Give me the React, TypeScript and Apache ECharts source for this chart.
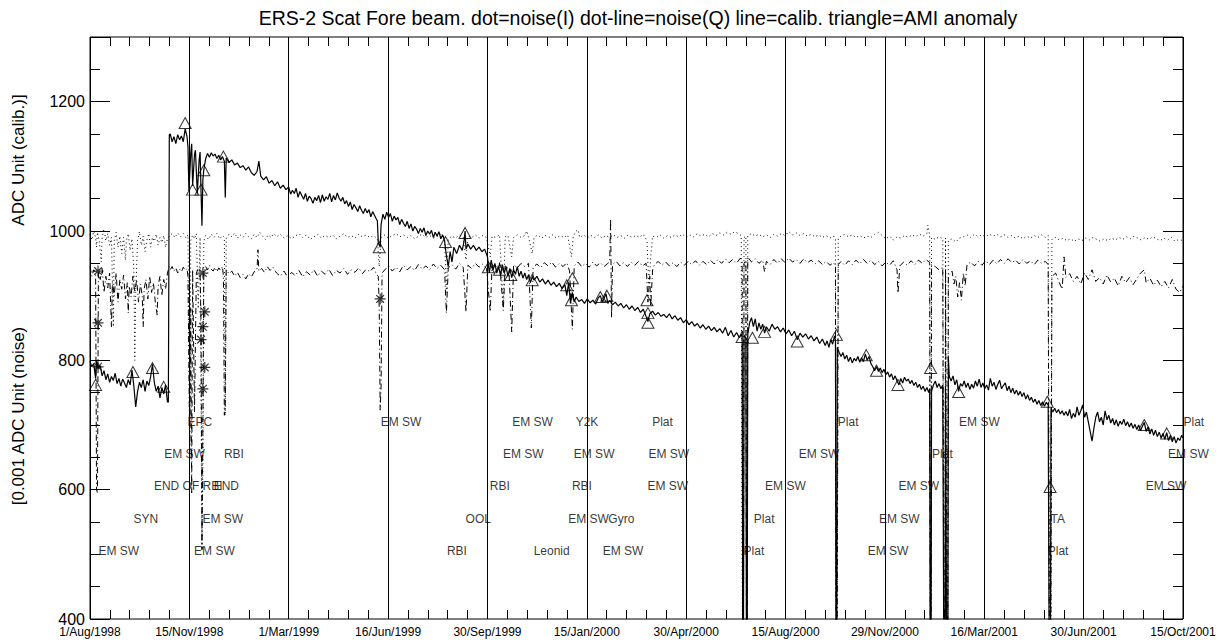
import { useEffect, useRef } from 'react';
import * as echarts from 'echarts';

// Axis: days since 1 Aug 1998, one labelled tick every 106.5 days.
const dateLabels = ['1/Aug/1998', '15/Nov/1998', '1/Mar/1999', '16/Jun/1999', '30/Sep/1999', '15/Jan/2000', '30/Apr/2000', '15/Aug/2000', '29/Nov/2000', '16/Mar/2001', '30/Jun/2001', '15/Oct/2001'];
const dayStep = 106.5;
const lastDay = 1171.5;
const yLabels = [400, 600, 800, 1000, 1200];

const TITLE = 'ERS-2 Scat Fore beam. dot=noise(I) dot-line=noise(Q) line=calib. triangle=AMI anomaly';
const Y_TITLE_TOP = 'ADC Unit (calib.)]';
const Y_TITLE_BOTTOM = '[0.001 ADC Unit (noise)';

// Calibration level (solid); 0 marks a data dropout.
const calib: [number, number][] = [
  [0,798],[2,790],[4,795],[6,772],[7,800],[9,788],[11,792],[13,776],[15,784],[17,770],[19,779],[21,766],[23,775],[25,769],[27,780],[29,764],[31,772],[33,760],[35,771],[37,765],[39,758],[41,770],[43,762],[45,785],[47,760],[49,728],[51,752],[53,766],[55,758],[57,770],[59,752],[61,768],[63,761],[65,775],[67,794],[69,765],[71,752],[73,760],[75,742],[77,758],[79,748],[81,762],[83,736],[84,735],
  [85,1149],[86,1150],[88,1138],[90,1146],[92,1135],[94,1149],[96,1141],[98,1147],[100,1138],[102,1158],[104,1146],[105,1130],[106,1062],[108,1120],[109,1135],[110,1070],[112,1118],[113,1125],[115,1058],[117,1110],[118,1122],[119,1062],[120,1008],[121,1080],[122,1095],[124,1112],[126,1120],[128,1114],[130,1121],[132,1116],[134,1119],[136,1112],[138,1117],[140,1110],[142,1115],[144,1108],[145,1052],[146,1113],[149,1106],[152,1110],[155,1102],[158,1105],[161,1098],[164,1101],[167,1094],[170,1099],[173,1090],[176,1086],[179,1092],[181,1108],[183,1085],[186,1079],[189,1084],[192,1074],[195,1078],[198,1070],[201,1076],[204,1066],[207,1071],[210,1064],
  [213,1068],[215,1057],[217,1063],[219,1058],[221,1066],[223,1052],[225,1061],[227,1055],[229,1049],[231,1058],[233,1046],[235,1054],[237,1050],[239,1043],[241,1052],[243,1047],[245,1055],[247,1044],[249,1056],[251,1046],[253,1053],[255,1049],[257,1058],[259,1045],[261,1055],[263,1048],[265,1059],[267,1051],[269,1046],[271,1052],[273,1042],[275,1047],[277,1038],[279,1045],[281,1033],[283,1041],[285,1036],[287,1030],[289,1039],[291,1032],[293,1027],[295,1035],[297,1028],[299,1033],[301,1022],[303,1030],[305,1024],[307,1018],[308,1016],[309,982],[311,975],[312,1010],[314,1026],[316,1018],[318,1029],[320,1021],[322,1027],[324,1015],[326,1023],[328,1017],[330,1021],[332,1010],[334,1018],[336,1012],[338,1007],[340,1015],[342,1004],[344,1011],[346,1000],[348,1007],[350,1003],[352,996],[354,1004],[356,998],[358,1005],[360,993],[362,1000],[364,995],[366,1001],[368,990],[370,998],[372,992],[374,999],[376,988],[378,994],[380,985],[382,962],[384,945],[386,968],[388,952],[390,975],[393,965],[396,978],[399,970],[401,985],[402,1000],[403,972],[405,980],[408,972],[411,978],[414,970],[417,975],[420,968],[423,972],[426,960],[428,935],[430,955],[432,940],[434,950],[436,935],[438,945],[440,931],[442,948],[444,936],[446,944],[448,930],[450,942],[452,928],[454,940],[456,933],[458,945],[460,930],[462,938],[464,927],[466,935],[468,925],[470,932],[472,920],[474,929],[476,924],[479,930],[482,921],[485,926],[488,918],[491,924],[494,916],[497,921],[500,914],[503,919],[506,911],[509,917],[511,900],[513,920],[515,888],[517,905],[519,890],[521,898],[524,891],[527,894],[530,888],[533,895],[536,889],[539,893],[542,887],[545,897],[547,900],[549,890],[551,896],[553,903],[555,888],[557,893],[560,886],[563,890],[566,884],[569,888],[572,881],[575,886],[578,879],[581,884],[584,877],[587,882],[590,874],[593,879],[596,868],[598,860],[600,872],[603,876],[606,870],[609,874],[612,868],[615,871],
  [618,866],[621,872],[624,864],[627,869],[630,862],[633,866],[636,858],[639,863],[642,855],[645,860],[648,853],[651,857],[654,850],[657,855],[660,848],[663,853],[666,846],[669,851],[672,844],[675,849],[678,842],[681,851],[684,838],[687,846],[690,836],[693,843],[696,835],[698,840],[699,836],[700,0],[701,838],[703,835],[704,0],[705,840],[707,858],[709,866],[711,852],[713,864],[715,845],[717,858],[719,848],[721,856],[723,842],[725,852],[728,845],[731,856],[734,848],[737,852],[740,844],[743,850],[746,841],[749,847],[752,838],[755,845],[758,832],[761,842],[764,836],[767,841],[770,833],[773,838],[776,830],[779,836],[782,826],[785,833],[788,823],[790,830],[792,820],[794,832],[796,825],[798,838],[799,830],[800,0],[801,820],[803,812],[805,806],[807,812],[809,802],[811,808],[813,798],[815,805],[817,796],[819,803],[821,799],[823,806],[825,797],[827,804],[829,798],[831,810],[833,800],[835,806],
  [837,795],[839,790],[841,784],[843,790],[845,783],[847,788],[849,781],[851,786],[853,778],[855,782],[857,774],[859,779],[861,770],[863,776],[865,768],[867,762],[869,772],[871,765],[873,774],[875,768],[877,771],[879,764],[881,769],[883,761],[885,766],[887,758],[889,763],[891,755],[893,760],[895,752],[897,758],[899,750],[900,756],[901,0],[902,752],[904,762],[906,768],[908,758],[910,764],[912,756],[914,762],[916,0],[917,760],[919,0],[920,805],[921,775],[923,768],[925,776],[927,762],[929,770],[931,752],[933,764],[935,760],[937,768],[939,758],[941,765],[943,755],[945,763],[947,757],[949,768],[951,760],[953,771],[955,758],[957,765],[959,756],[961,762],[963,754],[965,772],[967,760],[969,766],[971,755],[973,763],[975,769],[977,756],[979,761],[981,765],[983,753],[985,760],[987,750],[989,757],[991,748],[993,754],[995,746],[997,752],[999,744],[1001,750],[1003,740],[1005,747],[1007,738],[1009,743],[1011,735],[1013,740],[1015,732],[1017,738],[1019,730],[1021,736],[1023,729],[1025,735],[1027,731],[1029,0],[1030,726],[1032,720],[1034,726],[1036,719],[1038,724],[1040,717],[1042,722],[1044,715],
  [1046,721],[1048,714],[1050,724],[1052,710],[1054,718],[1056,712],[1058,728],[1060,715],[1062,722],[1064,731],[1066,712],[1068,720],[1070,705],[1072,690],[1074,675],[1076,695],[1078,712],[1080,720],[1082,705],[1084,712],[1086,700],[1088,722],[1090,708],[1092,715],[1094,703],[1096,710],[1098,700],[1100,708],[1102,698],[1104,706],[1106,701],[1108,709],[1110,699],[1112,705],[1114,697],[1116,703],[1118,695],[1120,701],[1122,693],[1124,700],[1126,691],[1128,698],[1130,704],[1132,690],[1134,697],[1136,686],[1138,694],[1140,684],[1142,692],[1144,682],[1146,689],[1148,680],[1150,687],[1152,678],[1154,688],[1156,676],[1158,684],[1160,674],[1162,682],[1164,672],[1166,680],[1168,676],[1170,684],[1171.5,680],
];

// Noise, I channel (dotted).
const noiseI: [number, number][] = [
  [0,995],[2,986],[4,1000],[6,990],[7,975],[8,998],[10,984],[12,952],[13,990],[15,1003],[17,985],[19,996],[21,978],[23,990],[25,852],[26,985],[28,998],[30,975],[32,992],[34,965],[36,990],[38,955],[39,985],[41,996],[43,970],[45,988],[47,940],[48,800],[49,905],[51,985],[53,999],[55,978],[57,992],[59,968],[61,986],[63,996],[65,975],[67,990],[69,984],[71,995],[73,978],[75,990],[77,982],[79,993],[81,975],[83,988],[85,992],[88,996],[91,990],[94,997],[97,991],[100,996],[103,989],[105,994],[107,700],[108,985],[110,994],[112,988],[114,996],[116,880],[118,990],[120,507],[121,640],[122,985],[124,993],[127,987],[130,995],[133,990],[136,996],[139,988],[142,993],[144,990],[145,715],[146,988],[149,995],[152,991],[155,997],[158,989],[161,994],[164,990],[167,996],[170,991],[173,988],[176,995],[179,990],[182,998],[185,992],[188,987],[191,994],[194,990],[197,996],
  [200,991],[204,995],[208,989],[212,993],[216,988],[220,992],[224,996],[228,990],[232,994],[236,987],[240,991],[244,995],[248,989],[252,993],[256,990],[260,994],[264,988],[268,992],[272,996],[276,990],[280,993],[284,989],[288,995],[292,991],[296,994],[300,990],[304,993],[308,988],[310,945],[312,990],[316,994],[320,989],[324,993],[328,996],[332,991],[336,994],[340,990],[344,993],[348,988],[352,992],[356,995],[360,990],[364,993],[368,989],[372,992],[376,995],[380,990],[382,905],[384,988],[388,992],[392,989],[396,994],[400,990],[403,955],[405,992],[409,990],[413,994],[417,989],[421,993],[425,990],[429,960],[431,992],[435,990],[439,994],[443,883],[445,991],[448,993],[452,960],[454,990],[458,994],[462,990],[466,993],[468,1000],[470,991],[474,965],[476,990],[480,994],[484,989],[488,993],[492,990],[496,994],[500,989],[504,993],[508,990],[512,994],[516,960],[518,992],[521,1000],[523,1002],[525,990],[529,994],[533,989],[537,993],[541,990],[545,994],[549,989],[553,993],[557,990],[561,994],[565,990],[569,993],[573,989],[577,994],[581,990],[585,993],[589,990],[593,995],[597,985],[599,914],[601,960],[603,992],[607,990],[611,994],[615,989],[619,993],[623,990],[627,994],[631,991],[635,995],[639,990],[643,994],[647,991],[651,996],[655,992],[659,995],[663,991],[667,996],[671,993],[675,997],[679,994],[683,998],[687,995],[691,999],[695,996],[698,993],[700,0],[701,990],[703,992],[704,0],[705,993],
  [709,996],[713,992],[717,995],[721,991],[725,994],[729,990],[733,995],[737,992],[741,996],[745,993],[749,999],[753,994],[757,997],[761,993],[765,996],[769,992],[773,995],[777,991],[781,994],[785,990],[789,993],[793,989],[797,992],[799,988],[800,0],[802,989],[805,992],[809,995],[813,991],[817,994],[821,990],[825,993],[829,989],[833,992],[837,990],[841,995],[845,998],[849,993],[853,988],[857,992],[861,986],[865,991],[869,989],[873,993],[877,990],[881,994],[885,991],[889,995],[893,992],[897,996],[898,1009],[900,993],[901,0],[902,990],[906,987],[910,991],[914,988],[916,0],[917,989],[919,0],[920,985],[924,988],[928,983],[932,989],[936,991],[940,994],[944,990],[948,995],[952,991],[956,994],[960,991],[964,995],[968,992],[972,995],[976,991],[980,994],[984,990],[988,993],[992,989],[996,992],[1000,988],[1004,992],[1008,989],[1012,993],[1016,990],[1020,994],[1024,990],[1027,993],[1029,0],[1031,987],[1035,990],[1039,986],[1043,989],[1047,985],[1051,988],[1055,984],[1059,988],[1063,985],[1067,989],[1071,986],[1075,990],[1079,987],[1083,984],[1087,988],[1091,985],[1095,989],[1099,986],[1103,990],[1107,987],[1111,991],[1115,988],[1119,992],[1123,989],[1127,986],[1131,990],[1135,987],[1139,991],[1143,988],[1147,985],[1151,989],[1155,986],[1159,990],[1163,984],[1167,987],[1171.5,985],
];

// Noise, Q channel (dash-dot).
const noiseQ: [number, number][] = [
  [0,945],[2,930],[4,940],[6,935],[7,600],[8,595],[9,938],[11,925],[13,942],[15,905],[17,930],[19,912],[21,935],[23,852],[24,920],[26,900],[28,935],[30,890],[32,925],[34,910],[36,932],[38,895],[40,920],[41,873],[42,915],[44,898],[46,930],[48,905],[50,925],[52,890],[54,918],[56,900],[57,852],[58,910],[60,925],[62,895],[64,930],[66,905],[68,920],[70,890],[72,870],[73,915],[75,930],[77,900],[79,925],[81,910],[83,935],[85,945],
  [86,940],[88,945],[90,938],[92,943],[94,935],[96,941],[98,937],[100,944],[102,939],[104,942],[105,930],[107,646],[108,880],[109,595],[110,940],[112,720],[114,935],[116,942],[118,936],[119,860],[120,507],[121,700],[122,938],[124,945],[126,940],[128,947],[130,941],[132,938],[134,944],[136,937],[138,943],[140,939],[142,945],[143,930],[144,715],[145,735],[146,940],[149,934],[152,938],[155,930],[158,936],[161,928],[164,933],[167,926],[170,934],[173,929],[176,937],[179,940],[180,971],[181,938],[184,942],[187,936],[190,945],[193,939],[196,944],[199,937],
  [200,935],[204,930],[208,938],[212,928],[216,936],[220,931],[224,939],[228,929],[232,937],[236,932],[240,940],[244,930],[248,938],[252,933],[256,941],[260,931],[264,939],[268,935],[272,942],[276,933],[280,940],[284,936],[288,943],[292,934],[296,941],[300,937],[304,944],[307,933],[309,930],[310,880],[311,723],[312,760],[313,935],[316,940],[320,946],[324,938],[328,944],[332,937],[336,947],[340,940],[344,945],[348,939],[352,948],[356,941],[360,946],[364,940],[368,949],[372,942],[376,947],[380,940],[382,873],[384,943],[388,948],[392,941],[396,950],[400,944],[403,875],[405,947],[409,942],[413,950],[417,944],[421,949],[425,942],[429,875],[431,948],[435,943],[439,951],[443,877],[445,946],[449,941],[452,844],[454,948],[458,943],[462,950],[466,945],[470,950],[473,850],[475,944],[479,949],[483,943],[487,951],[491,946],[495,952],[499,944],[503,950],[507,945],[511,951],[514,938],[517,848],[519,946],[523,952],[527,945],[531,950],[535,944],[539,952],[543,946],[547,951],[551,945],[555,950],[557,952],[558,1019],[559,866],[560,948],[564,953],[568,946],[572,951],[576,945],[580,952],[584,947],[588,953],[592,946],[596,950],[598,890],[600,930],[601,883],[603,940],[605,948],[609,953],[613,947],[617,952],[621,946],[625,951],[629,945],[633,952],[637,947],[641,953],[645,948],[649,954],[653,947],[657,953],[661,948],[665,955],[669,949],[673,956],[677,950],[681,957],[685,951],[689,956],[693,950],[697,958],[699,952],[700,0],[701,950],[703,955],[704,0],[705,960],
  [709,952],[713,957],[717,950],[721,955],[723,937],[725,953],[729,948],[733,956],[737,950],[741,957],[745,951],[749,958],[753,952],[757,956],[761,950],[765,957],[769,951],[773,955],[777,949],[781,954],[785,948],[789,953],[793,947],[797,951],[799,945],[800,0],[802,948],[805,953],[809,947],[813,954],[817,948],[821,955],[825,949],[829,956],[833,950],[837,955],[841,948],[845,953],[849,946],[853,952],[857,947],[861,954],[865,940],[866,904],[868,946],[872,952],[876,947],[880,954],[884,948],[888,955],[892,950],[896,956],[900,951],[901,0],[902,948],[906,945],[910,940],[914,944],[916,0],[917,940],[919,0],[920,932],[924,938],[926,918],[928,930],[930,898],[932,920],[934,893],[936,935],[938,915],[940,948],[944,952],[948,946],[952,953],[956,947],[960,954],[964,948],[968,955],[972,949],[976,956],[980,950],[984,957],[988,951],[992,955],[996,949],[1000,956],[1004,950],[1008,954],[1012,948],[1016,955],[1020,950],[1024,953],[1027,948],[1029,0],[1031,930],[1035,935],[1039,920],[1042,910],[1044,960],[1046,928],[1050,934],[1054,922],[1058,930],[1062,918],[1066,935],[1070,925],[1074,940],[1078,922],[1082,928],[1086,918],[1090,932],[1094,921],[1098,927],[1102,915],[1106,930],[1110,920],[1114,928],[1118,917],[1122,926],[1126,935],[1130,940],[1132,920],[1136,927],[1140,916],[1144,924],[1148,914],[1152,922],[1156,912],[1160,925],[1164,910],[1168,905],[1171.5,915],
];

// AMI anomaly markers (triangles).
const amiAnomaly: [number, number][] = [
  [6,762],[46,782],[67,788],[79,759],[102,1167],[110,1064],[119,1064],[122,1094],[143,1115],[310,975],[381,983],[402,997],[427,944],[439,940],[451,932],[474,924],[511,916],[517,927],[516,893],[547,898],[554,900],[597,893],[598,873],[598,858],[699,836],[710,835],[723,844],[758,829],[800,839],[832,808],[843,784],[866,762],[901,788],[931,751],[1026,736],[1029,604],[1130,700],[1154,687],
];

// Asterisk markers.
const asterisks: [number, number][] = [
  [8.6,938],[8.6,858],[8.6,790],[121,935],[123,875],[121,852],[119,832],[123,789],[121,756],[311,895],
];

// Event annotations: day, level, text.
const events: [number, number, string][] = [
  [104,705,'EPC'],[311,705,'EM SW'],[452,705,'EM SW'],[520,705,'Y2K'],[602,705,'Plat'],[801,705,'Plat'],[931,705,'EM SW'],[1171.5,705,'Plat'],
  [79,655,'EM SW'],[143,655,'RBI'],[442,655,'EM SW'],[518,655,'EM SW'],[598,655,'EM SW'],[759,655,'EM SW'],[902,655,'Plat'],[1155,655,'EM SW'],
  [68,605,'END OF RBI'],[132,605,'END'],[428,605,'RBI'],[516,605,'RBI'],[597,605,'EM SW'],[723,605,'EM SW'],[866,605,'EM SW'],[1131,605,'EM SW'],
  [46,555,'SYN'],[120,555,'EM SW'],[402,555,'OOL'],[512,555,'EM SW'],[555,555,'Gyro'],[711,555,'Plat'],[845,555,'EM SW'],[1029,555,'TA'],
  [8.6,505,'EM SW'],[111,505,'EM SW'],[382,505,'RBI'],[475,505,'Leonid'],[549,505,'EM SW'],[700,505,'Plat'],[833,505,'EM SW'],[1026,505,'Plat'],
];

const FONT = '"Liberation Sans", Arial, Helvetica, sans-serif';
const INK = '#000';
const ASTERISK = 'path://M5,0L5,10M0,5L10,5M1.5,1.5L8.5,8.5M1.5,8.5L8.5,1.5';

function dateFormatter(v: number): string {
  const i = Math.round(v / dayStep);
  return Math.abs(v - i * dayStep) < 0.5 && dateLabels[i] ? dateLabels[i] : '';
}

function yFormatter(v: number): string {
  return yLabels.includes(v) ? String(v) : '';
}

export default function App() {
  const ref = useRef<HTMLDivElement>(null);

  useEffect(() => {
    if (!ref.current) return;
    const chart = echarts.init(ref.current, undefined, { renderer: 'svg' });

    const xBase = {
      type: 'value' as const,
      min: 0,
      max: lastDay,
      interval: dayStep,
      axisLine: { show: false },
    };
    const yBase = {
      type: 'value' as const,
      min: 400,
      max: 1300,
      axisLine: { show: false },
      splitLine: { show: false },
    };

    chart.setOption({
      animation: false,
      backgroundColor: '#fff',
      textStyle: { fontFamily: FONT },
      grid: { left: 90, right: 40, top: 37, bottom: 25, show: true, borderColor: INK, borderWidth: 1, backgroundColor: 'transparent' },
      xAxis: [
        {
          ...xBase,
          position: 'bottom',
          axisTick: { show: true, inside: true, length: 10, lineStyle: { color: INK } },
          minorTick: { show: true, splitNumber: 5, length: 9, lineStyle: { color: INK } },
          splitLine: { show: true, lineStyle: { color: INK, width: 1 } },
          axisLabel: { formatter: dateFormatter, fontSize: 12, color: INK, margin: 7, fontFamily: FONT, showMinLabel: true, showMaxLabel: true },
        },
        {
          ...xBase,
          position: 'top',
          axisTick: { show: true, inside: true, length: 10, lineStyle: { color: INK } },
          minorTick: { show: true, splitNumber: 5, length: 9, lineStyle: { color: INK } },
          splitLine: { show: false },
          axisLabel: { show: false },
        },
      ],
      yAxis: [
        {
          ...yBase,
          position: 'left',
          interval: 200,
          axisTick: { show: true, inside: true, length: 20, lineStyle: { color: INK } },
          axisLabel: { formatter: yFormatter, fontSize: 16, color: INK, margin: 5, fontFamily: FONT },
        },
        {
          ...yBase,
          position: 'left',
          interval: 50,
          axisTick: { show: true, inside: true, length: 10, lineStyle: { color: INK } },
          axisLabel: { show: false },
        },
        {
          ...yBase,
          position: 'right',
          interval: 200,
          axisTick: { show: true, inside: true, length: 20, lineStyle: { color: INK } },
          axisLabel: { show: false },
        },
        {
          ...yBase,
          position: 'right',
          interval: 50,
          axisTick: { show: true, inside: true, length: 10, lineStyle: { color: INK } },
          axisLabel: { show: false },
        },
      ],
      graphic: [
        {
          type: 'text', x: 638, y: 18, silent: true,
          style: { text: TITLE, fill: INK, font: `19.5px ${FONT}`, textAlign: 'center', textVerticalAlign: 'middle' },
        },
        {
          type: 'text', x: 18, y: 160, rotation: Math.PI / 2, silent: true,
          style: { text: Y_TITLE_TOP, fill: INK, font: `17px ${FONT}`, textAlign: 'center', textVerticalAlign: 'middle' },
        },
        {
          type: 'text', x: 18, y: 416, rotation: Math.PI / 2, silent: true,
          style: { text: Y_TITLE_BOTTOM, fill: INK, font: `17px ${FONT}`, textAlign: 'center', textVerticalAlign: 'middle' },
        },
      ],
      series: [
        {
          name: 'noise(I)', type: 'line', data: noiseI, showSymbol: false, silent: true,
          lineStyle: { color: INK, width: 1, type: [1, 3] },
        },
        {
          name: 'noise(Q)', type: 'line', data: noiseQ, showSymbol: false, silent: true,
          lineStyle: { color: INK, width: 1, type: [6, 3, 1, 3] },
        },
        {
          name: 'calib', type: 'line', data: calib, showSymbol: false, silent: true,
          lineStyle: { color: INK, width: 1.2 },
        },
        {
          name: 'AMI anomaly', type: 'scatter', data: amiAnomaly, silent: true,
          symbol: 'triangle', symbolSize: [12, 11],
          itemStyle: { color: 'rgba(0,0,0,0)', borderColor: INK, borderWidth: 1 },
        },
        {
          name: 'asterisk', type: 'scatter', data: asterisks, silent: true,
          symbol: ASTERISK, symbolSize: 11,
          itemStyle: { color: 'rgba(0,0,0,0)', borderColor: INK, borderWidth: 1.2 },
        },
        {
          name: 'events', type: 'scatter', data: events, silent: true, clip: false,
          symbolSize: 1, itemStyle: { color: 'rgba(0,0,0,0)' },
          label: {
            show: true, position: 'right', distance: 0, color: INK, fontSize: 12, fontFamily: FONT,
            formatter: (p: any) => p.data[2],
          },
        },
      ],
    });

    return () => chart.dispose();
  }, []);

  return <div ref={ref} style={{ position: 'absolute', left: 0, top: 0, width: 1223, height: 644 }} />;
}
